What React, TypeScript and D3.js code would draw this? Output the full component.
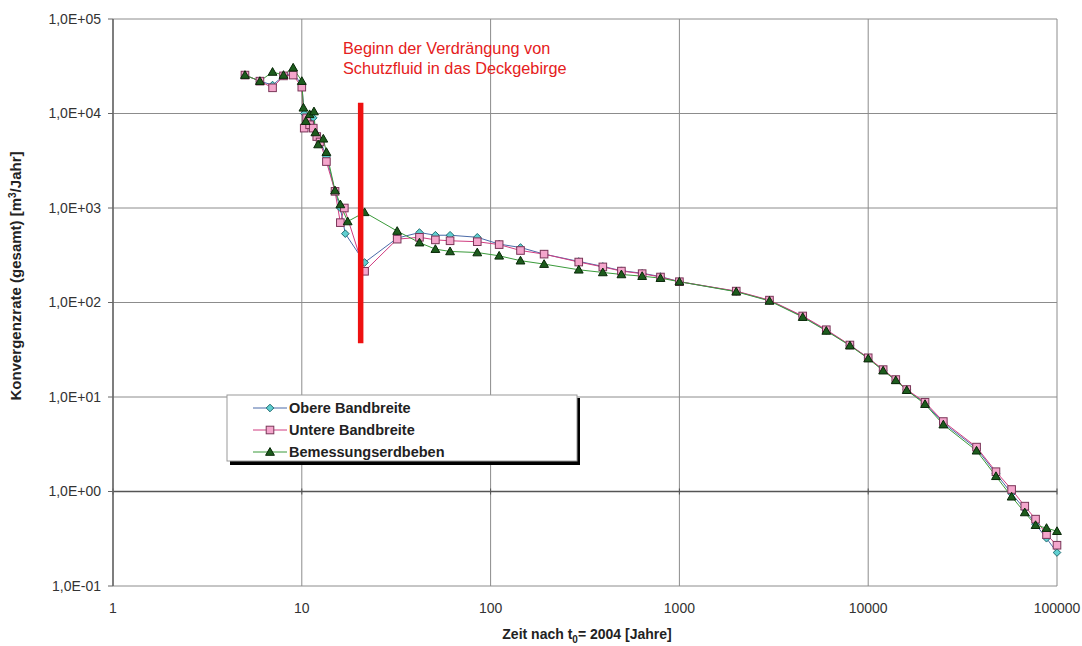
import React from "react";
import * as d3 from "d3";

const W = 1082;
const H = 646;

// Obere Bandbreite
const xObere = [5, 6, 7, 8, 9, 10, 10.3, 10.6, 11, 11.5, 12, 12.5, 13.5, 15, 16, 17, 21.5, 32, 42, 51, 61, 85, 111, 144, 192, 293, 393, 493, 635, 794, 1000, 2000, 3000, 4500, 6000, 8000, 10000, 12000, 14000, 16000, 20000, 25000, 37500, 47500, 57500, 67500, 77000, 88000, 100000];
const yObere = [25500, 22000, 20000, 25000, 27000, 20000, 10000, 8500, 8000, 9000, 6000, 5200, 3500, 1500, 1000, 535, 265, 480, 550, 515, 515, 490, 415, 382, 325, 272, 241, 217, 204, 188, 166, 131, 105, 71, 50.7, 35.3, 25.9, 19.2, 15.1, 11.9, 8.6, 5.3, 2.85, 1.55, 0.95, 0.65, 0.45, 0.32, 0.226];

// Untere Bandbreite
const xUntere = [5, 6, 7, 8, 9, 10, 10.3, 10.6, 11, 11.5, 12, 12.5, 13.5, 15, 16, 16.8, 21.5, 32, 42, 51, 61, 85, 111, 144, 192, 293, 393, 493, 635, 794, 1000, 2000, 3000, 4500, 6000, 8000, 10000, 12000, 14000, 16000, 20000, 25000, 37500, 47500, 57500, 67500, 77000, 88000, 100000];
const yUntere = [25500, 22000, 18700, 25000, 25500, 19000, 7000, 9000, 7600, 7000, 5700, 5000, 3100, 1500, 700, 1000, 214, 468, 490, 460, 450, 440, 410, 355, 325, 268, 238, 215, 202, 186, 166, 132, 106, 72, 51.5, 35.5, 26, 19.5, 15.3, 12, 8.8, 5.5, 2.95, 1.62, 1.05, 0.7, 0.51, 0.35, 0.27];

// Bemessungserdbeben
const xBemessung = [5, 6, 7, 8, 9, 10, 10.2, 10.5, 11, 11.6, 11.8, 12.2, 13, 13.5, 15, 16, 17.5, 21.5, 32, 42, 51, 61, 85, 111, 144, 192, 293, 393, 493, 635, 794, 1000, 2000, 3000, 4500, 6000, 8000, 10000, 12000, 14000, 16000, 20000, 25000, 37500, 47500, 57500, 67500, 77000, 88000, 100000];
const yBemessung = [25500, 22000, 27500, 25500, 30500, 22000, 11500, 8300, 9800, 10500, 6300, 4700, 5400, 3900, 1530, 1090, 720, 900, 570, 430, 367, 347, 338, 312, 277, 255, 222, 208, 198, 190, 181, 166, 130, 104, 70, 50, 35, 25.5, 19, 15, 11.8, 8.4, 5.1, 2.7, 1.45, 0.88, 0.6, 0.44, 0.41, 0.38];

const seriesNames = ["Obere Bandbreite", "Untere Bandbreite", "Bemessungserdbeben"];
const xTicks = [1, 10, 100, 1000, 10000, 100000];
const xTickLabels = ["1", "10", "100", "1000", "10000", "100000"];
const yTicks = [0.1, 1, 10, 100, 1000, 10000, 100000];
const yTickLabels = ["1,0E-01", "1,0E+00", "1,0E+01", "1,0E+02", "1,0E+03", "1,0E+04", "1,0E+05"];

// red marker bar: x position and y extent (data units)
const redBarX = 20.5;
const redBarY = [37, 13000];
const annotationLines = ["Beginn der Verdrängung von", "Schutzfluid in das Deckgebirge"];

const FONT = "'Liberation Sans', Arial, sans-serif";

const styles = [
  { line: "#4a6aa8", fill: "#5fcfd0", stroke: "#1f6a70", shape: "diamond" },
  { line: "#d03c80", fill: "#f4a6cc", stroke: "#7a3558", shape: "square" },
  { line: "#3a9a3a", fill: "#1d5c1d", stroke: "#082808", shape: "triangle" },
];

function Marker({ shape, x, y, fill, stroke }: any) {
  if (shape === "diamond") {
    const r = 3.8;
    return <path d={`M${x},${y - r}L${x + r},${y}L${x},${y + r}L${x - r},${y}Z`} fill={fill} stroke={stroke} strokeWidth={1} />;
  }
  if (shape === "square") {
    const r = 3.8;
    return <rect x={x - r} y={y - r} width={2 * r} height={2 * r} fill={fill} stroke={stroke} strokeWidth={1} />;
  }
  const r = 4.4;
  return <path d={`M${x},${y - r}L${x + r},${y + r * 0.75}L${x - r},${y + r * 0.75}Z`} fill={fill} stroke={stroke} strokeWidth={1} />;
}

export default function App() {
  const x = d3.scaleLog().domain([1, 100000]).range([113, 1057]);
  const y = d3.scaleLog().domain([0.1, 100000]).range([586, 19]);
  const data = [
    xObere.map((v, i) => [v, yObere[i]]),
    xUntere.map((v, i) => [v, yUntere[i]]),
    xBemessung.map((v, i) => [v, yBemessung[i]]),
  ];
  const line = d3
    .line<number[]>()
    .x((d) => x(d[0]))
    .y((d) => y(d[1]));

  const left = x(1);
  const right = x(100000);
  const top = y(100000);
  const bottom = y(0.1);

  return (
    <svg width={W} height={H} style={{ position: "absolute", left: 0, top: 0, background: "#fff" }} fontFamily={FONT}>
      <rect x={0} y={0} width={W} height={H} fill="#fff" />
      {/* gridlines */}
      {yTicks.map((t) => (
        <line key={"gy" + t} x1={left} x2={right} y1={y(t)} y2={y(t)} stroke="#8c8c8c" strokeWidth={1} />
      ))}
      {xTicks.map((t) => (
        <line key={"gx" + t} x1={x(t)} x2={x(t)} y1={top} y2={bottom} stroke="#8c8c8c" strokeWidth={1} />
      ))}
      {/* x axis line crossing at y=1 */}
      <line x1={left} x2={right} y1={y(1)} y2={y(1)} stroke="#555" strokeWidth={1.5} />
      {xTicks.map((t) => (
        <line key={"xt" + t} x1={x(t)} x2={x(t)} y1={y(1) - 3} y2={y(1) + 3} stroke="#555" strokeWidth={1} />
      ))}
      {/* y axis */}
      <line x1={left} x2={left} y1={top} y2={bottom} stroke="#666" strokeWidth={1.5} />
      {yTicks.map((t, i) => (
        <g key={"yt" + t}>
          <line x1={left - 5} x2={left} y1={y(t)} y2={y(t)} stroke="#666" strokeWidth={1} />
          <text x={101} y={y(t)} dy="0.35em" textAnchor="end" fontSize={14} fill="#333">
            {yTickLabels[i]}
          </text>
        </g>
      ))}
      {xTicks.map((t, i) => (
        <text key={"xl" + t} x={x(t)} y={608} dy="0.35em" textAnchor="middle" fontSize={14} fill="#333">
          {xTickLabels[i]}
        </text>
      ))}
      {/* series lines */}
      {data.map((d, i) => (
        <path key={"l" + i} d={line(d as any) || ""} fill="none" stroke={styles[i].line} strokeWidth={1} />
      ))}
      {data.map((d, i) =>
        d.map((p, j) => (
          <Marker key={"m" + i + "-" + j} shape={styles[i].shape} x={x(p[0])} y={y(p[1])} fill={styles[i].fill} stroke={styles[i].stroke} />
        ))
      )}
      {/* red bar */}
      <line x1={x(redBarX)} x2={x(redBarX)} y1={y(redBarY[0])} y2={y(redBarY[1])} stroke="#ee1111" strokeWidth={5.5} />
      <text x={343} y={48} dy="0.35em" fontSize={16.3} fill="#e52020">
        {annotationLines[0]}
      </text>
      <text x={343} y={68} dy="0.35em" fontSize={16.3} fill="#e52020">
        {annotationLines[1]}
      </text>
      {/* legend */}
      <rect x={230} y={398} width={350} height={67} fill="#000" />
      <rect x={227} y={395} width={350} height={66} fill="#fff" stroke="#9a9a9a" strokeWidth={1} />
      {seriesNames.map((n, i) => {
        const ly = 408 + i * 22;
        return (
          <g key={"lg" + i}>
            <line x1={253} x2={287} y1={ly} y2={ly} stroke={styles[i].line} strokeWidth={1} />
            <Marker shape={styles[i].shape} x={270} y={ly} fill={styles[i].fill} stroke={styles[i].stroke} />
            <text x={289} y={ly} dy="0.35em" fontSize={14.5} fontWeight="bold" fill="#222">
              {n}
            </text>
          </g>
        );
      })}
      {/* axis titles */}
      <text transform="translate(21,276) rotate(-90)" textAnchor="middle" fontSize={15} fontWeight="bold" fill="#222">
        Konvergenzrate (gesamt) [m<tspan dy="-5" fontSize={10}>3</tspan><tspan dy="5">/Jahr]</tspan>
      </text>
      <text x={587} y={634} dy="0.35em" textAnchor="middle" fontSize={14} fontWeight="bold" fill="#222">
        Zeit nach t<tspan dy="4" fontSize={10}>0</tspan><tspan dy="-4">= 2004 [Jahre]</tspan>
      </text>
    </svg>
  );
}
